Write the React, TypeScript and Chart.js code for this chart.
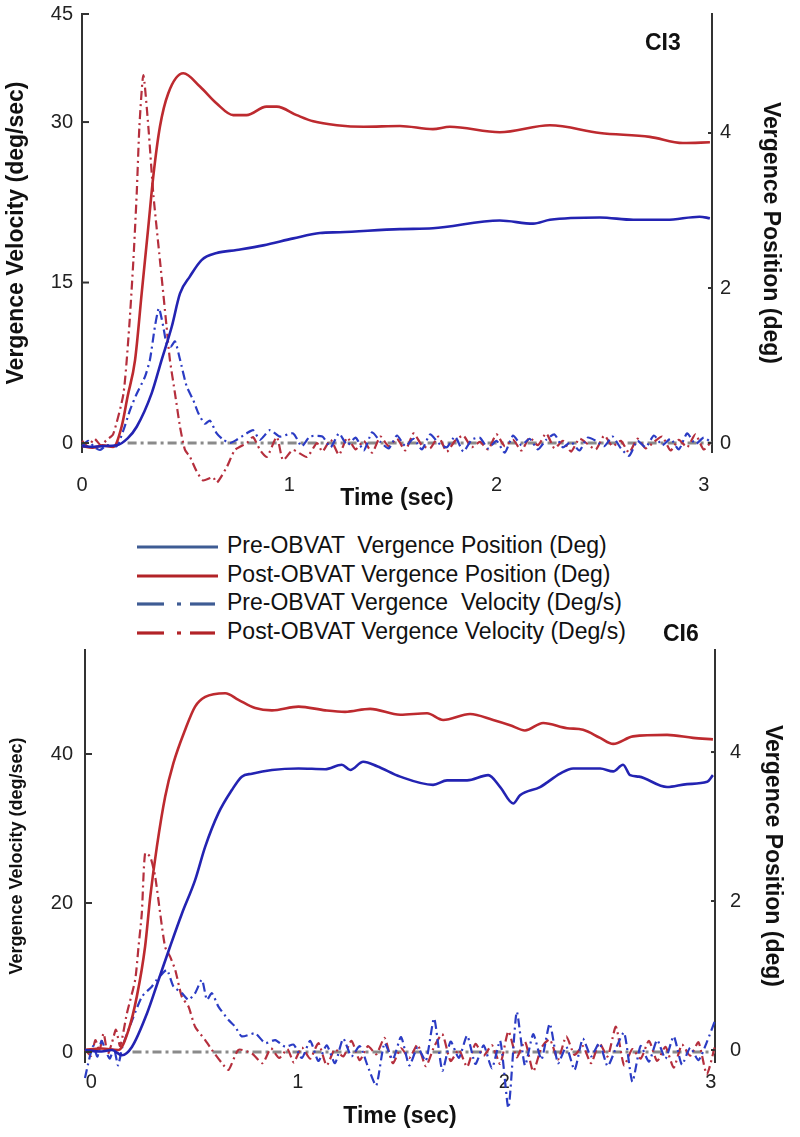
import React, { useEffect, useRef } from "react";
import { Chart, registerables } from "chart.js";

Chart.register(...registerables);

const FONT = '"Liberation Sans", Arial, Helvetica, sans-serif';

// ---------- Colours ----------
const RED_POS = "#bd2a2f";
const BLUE_POS = "#2323b2";
const RED_VEL = "#b52f3d";
const BLUE_VEL = "#2b3cc4";
const ZERO_GRAY = "#8a8a8a";
const LEG_BLUE = "#3e5c94";
const LEG_RED = "#b22327";

// ---------- Legend ----------
const LEGEND_LABELS = [
  "Pre-OBVAT  Vergence Position (Deg)",
  "Post-OBVAT Vergence Position (Deg)",
  "Pre-OBVAT Vergence  Velocity (Deg/s)",
  "Post-OBVAT Vergence Velocity (Deg/s)",
];

// ---------- Top panel (CI3) ----------
const TOP_X_TICKS = [0, 1, 2, 3];
const TOP_VEL_TICKS = [0, 15, 30];
const TOP_VEL_TOP_LABEL = "45";
const TOP_POS_TICKS = [0, 2, 4];

const TOP_PRE_POS_T = [0, 0.05, 0.1, 0.167, 0.22, 0.264, 0.336, 0.384, 0.433, 0.473, 0.521, 0.577, 0.65, 0.746, 0.875, 1.02, 1.148, 1.245, 1.534, 1.693, 2.016, 2.177, 2.258, 2.499, 2.66, 2.82, 2.98, 3.03];
const TOP_PRE_POS = [-0.04, -0.05, -0.04, -0.03, 0.06, 0.21, 0.64, 1.07, 1.5, 1.93, 2.15, 2.36, 2.45, 2.49, 2.55, 2.64, 2.71, 2.72, 2.76, 2.77, 2.87, 2.83, 2.88, 2.91, 2.88, 2.88, 2.92, 2.9];

const TOP_POST_POS_T = [0, 0.05, 0.1, 0.151, 0.191, 0.22, 0.256, 0.288, 0.32, 0.344, 0.376, 0.416, 0.489, 0.569, 0.65, 0.73, 0.794, 0.89, 0.94, 1.036, 1.116, 1.23, 1.36, 1.534, 1.693, 1.775, 2.016, 2.258, 2.499, 2.74, 2.9, 3.03];
const TOP_POST_POS = [-0.04, -0.06, -0.03, -0.05, 0.21, 0.6, 1.07, 1.93, 2.79, 3.44, 4.08, 4.51, 4.77, 4.6, 4.38, 4.23, 4.23, 4.34, 4.34, 4.23, 4.15, 4.1, 4.08, 4.09, 4.05, 4.08, 4.01, 4.1, 4.0, 3.95, 3.87, 3.88];

const TOP_PRE_VEL_T = [0, 0.03, 0.06, 0.087, 0.12, 0.167, 0.2, 0.232, 0.264, 0.304, 0.328, 0.352, 0.371, 0.392, 0.408, 0.428, 0.449, 0.473, 0.505, 0.537, 0.561, 0.593, 0.617, 0.65, 0.682, 0.714, 0.746, 0.794, 0.826, 0.859, 0.907, 0.955, 1.019, 1.06, 1.1];
const TOP_PRE_VEL = [-0.3, 0.2, -0.4, -0.65, -0.2, -0.3, 1.2, 3.1, 4.6, 6.2, 7.8, 10.9, 12.6, 10.9, 9.3, 9.0, 9.5, 7.8, 5.3, 4.0, 2.8, 1.8, 2.1, 0.9, 0.3, 0, 0.3, 0.9, 1.2, 0.3, 1.2, 0.6, 0.9, -0.3, 0.6];

const TOP_POST_VEL_T = [0, 0.03, 0.06, 0.09, 0.12, 0.15, 0.2, 0.228, 0.248, 0.264, 0.277, 0.296, 0.32, 0.344, 0.376, 0.408, 0.424, 0.449, 0.473, 0.497, 0.521, 0.552, 0.584, 0.632, 0.651, 0.7, 0.738, 0.796, 0.825, 0.859, 0.892, 0.94, 0.97, 1.018, 1.085, 1.134];
const TOP_POST_VEL = [0.2, -0.3, 0.4, -0.2, 0.3, 0.8, 4.6, 10.9, 17.1, 23.3, 29.6, 34.4, 29.6, 23.3, 17.1, 10.9, 7.8, 4.6, 1.5, -0.65, -1.3, -2.6, -3.5, -3.2, -3.7, -2.2, -0.65, 0, 0.56, -0.65, -1.3, 0.56, -1.6, -0.65, -1.3, 0];

const TOP_TAIL_T = [1.16, 1.2, 1.24, 1.28, 1.32, 1.36, 1.4, 1.44, 1.48, 1.52, 1.56, 1.6, 1.64, 1.68, 1.72, 1.76, 1.8, 1.84, 1.88, 1.92, 1.96, 2.0, 2.04, 2.08, 2.12, 2.16, 2.2, 2.24, 2.28, 2.32, 2.36, 2.4, 2.44, 2.48, 2.52, 2.56, 2.6, 2.64, 2.68, 2.72, 2.76, 2.8, 2.84, 2.88, 2.92, 2.96, 3.0, 3.04];
const TOP_PRE_VEL_TAIL = [0.6, -0.4, 0.9, -0.2, 0.5, -0.7, 1.0, 0.1, -0.5, 0.7, -0.3, 0.4, -0.6, 0.8, 0.0, -0.4, 0.6, -0.8, 0.3, 0.5, -0.5, 0.2, -0.9, 0.7, -0.2, 0.4, -0.6, 0.3, 0.8, -0.4, 0.1, -0.7, 0.5, 0.2, -0.3, 0.6, -0.5, -1.2, 0.2, -0.4, 0.7, -0.2, 0.4, -0.6, 0.9, -0.1, 0.5, 0.0];
const TOP_POST_VEL_TAIL = [-0.8, 0.3, -1.1, 0.5, -0.6, 0.2, -0.9, 0.6, -0.3, 0.4, -0.7, 0.9, -0.2, -0.5, 0.6, -0.8, 0.2, 0.7, -0.4, 0.1, -0.6, 0.8, -0.3, 0.3, -0.7, 0.5, -0.2, 0.9, -0.5, 0.2, -0.8, 0.4, -0.1, -0.6, 0.7, -0.3, 0.2, -0.9, 0.4, -0.5, 0.1, 0.6, -0.7, 0.3, -0.4, 0.8, -0.6, 0.2];
const TOP_ZERO_T = [0.22, 3.04];

// ---------- Bottom panel (CI6) ----------
const BOT_X_TICKS = [0, 1, 2, 3];
const BOT_VEL_TICKS = [0, 20, 40];
const BOT_POS_TICKS = [0, 2, 4];

const BOT_PRE_POS_T = [-0.03, 0.05, 0.1, 0.149, 0.197, 0.27, 0.326, 0.382, 0.439, 0.503, 0.552, 0.616, 0.681, 0.729, 0.778, 0.875, 1.004, 1.133, 1.213, 1.254, 1.317, 1.384, 1.496, 1.655, 1.723, 1.82, 1.922, 1.98, 2.043, 2.076, 2.173, 2.27, 2.333, 2.464, 2.527, 2.575, 2.609, 2.652, 2.788, 2.885, 2.982, 3.01];
const BOT_PRE_POS = [0.0, -0.02, 0.0, -0.07, 0.04, 0.49, 0.94, 1.39, 1.83, 2.28, 2.73, 3.18, 3.49, 3.67, 3.71, 3.76, 3.78, 3.77, 3.83, 3.76, 3.87, 3.81, 3.67, 3.56, 3.62, 3.62, 3.69, 3.53, 3.31, 3.42, 3.53, 3.71, 3.78, 3.78, 3.74, 3.83, 3.69, 3.67, 3.53, 3.57, 3.6, 3.69];

const BOT_POST_POS_T = [-0.03, 0.05, 0.132, 0.181, 0.221, 0.261, 0.286, 0.318, 0.358, 0.398, 0.455, 0.503, 0.552, 0.649, 0.713, 0.794, 0.875, 1.004, 1.133, 1.229, 1.35, 1.496, 1.626, 1.704, 1.834, 1.946, 2.028, 2.1, 2.188, 2.304, 2.381, 2.464, 2.527, 2.623, 2.788, 2.914, 3.01];
const BOT_POST_POS = [0.0, 0.02, 0.0, 0.27, 0.72, 1.39, 2.06, 2.73, 3.4, 3.85, 4.3, 4.61, 4.74, 4.79, 4.7, 4.59, 4.56, 4.61, 4.56, 4.54, 4.58, 4.5, 4.52, 4.43, 4.51, 4.43, 4.36, 4.29, 4.39, 4.32, 4.3, 4.19, 4.11, 4.21, 4.23, 4.19, 4.17];

const BOT_PRE_VEL_T = [-0.03, -0.01, 0.01, 0.03, 0.05, 0.07, 0.09, 0.11, 0.13, 0.15, 0.181, 0.245, 0.294, 0.318, 0.366, 0.398, 0.439, 0.471, 0.503, 0.536, 0.56, 0.584, 0.616, 0.665, 0.697, 0.729, 0.794, 0.842, 0.891, 0.939];
const BOT_PRE_VEL = [-3.5, -1.0, 0.8, -0.6, 1.5, 0.2, -0.9, 0.5, -1.8, 0.6, 3.0, 7.4, 8.8, 9.7, 11.0, 8.8, 7.9, 7.0, 7.9, 9.7, 7.0, 7.9, 6.1, 4.3, 3.4, 2.1, 2.5, 1.2, 1.6, 0.7];

const BOT_POST_VEL_T = [-0.03, 0.0, 0.02, 0.04, 0.06, 0.08, 0.1, 0.12, 0.14, 0.173, 0.213, 0.229, 0.245, 0.261, 0.286, 0.31, 0.334, 0.358, 0.382, 0.407, 0.439, 0.471, 0.503, 0.552, 0.584, 0.633, 0.665, 0.713, 0.778, 0.83, 0.87, 0.91, 0.95];
const BOT_POST_VEL = [0.3, -0.5, 1.6, 0.2, 2.5, -0.3, 1.2, 3.0, 0.8, 5.2, 9.7, 14.1, 18.6, 26.7, 26.2, 23.5, 18.6, 14.1, 12.8, 11.0, 7.4, 6.1, 3.4, 1.6, 0.3, -1.5, -2.4, 0.3, -0.2, -1.5, 0.5, -0.8, 0.4];

const BOT_TAIL_T = [0.98, 1.02, 1.06, 1.1, 1.14, 1.18, 1.22, 1.26, 1.3, 1.34, 1.38, 1.42, 1.46, 1.5, 1.54, 1.58, 1.62, 1.66, 1.7, 1.74, 1.78, 1.82, 1.86, 1.9, 1.94, 1.98, 2.02, 2.06, 2.1, 2.14, 2.18, 2.22, 2.26, 2.3, 2.34, 2.38, 2.42, 2.46, 2.5, 2.54, 2.58, 2.62, 2.66, 2.7, 2.74, 2.78, 2.82, 2.86, 2.9, 2.94, 2.98, 3.02];
const BOT_PRE_VEL_TAIL = [1.0, -0.8, 1.5, -1.2, 0.9, -1.5, 1.8, -0.6, 0.8, -2.0, -4.5, 1.2, -1.0, 2.0, -1.8, 0.6, -1.2, 4.5, -2.5, 1.4, -0.8, 2.2, -1.6, 0.9, -2.2, 1.5, -7.5, 5.4, -1.8, 2.4, -1.0, 3.8, -1.5, 0.7, -2.4, 1.8, -0.6, 1.2, -1.9, 0.5, 2.6, -4.0, 0.8, -1.3, 1.6, -0.9, 2.1, -1.7, 0.6, -1.1, 1.3, 4.2];
const BOT_POST_VEL_TAIL = [-1.4, 0.6, -0.9, 1.2, -1.8, 0.4, -0.6, 1.5, -1.1, 0.8, -0.3, 1.9, -1.5, 0.5, -0.8, 1.0, -1.9, 0.7, 2.4, -1.2, 0.3, -2.0, 1.1, -0.5, 0.9, -1.6, 2.8, -0.7, 1.4, -2.6, 0.6, 1.7, -1.0, 2.1, -0.4, 0.8, -1.5, 1.2, -0.6, 3.4, -1.8, 0.4, -0.9, 1.5, -1.2, 0.7, -2.1, 1.0, -0.5, 1.3, -3.0, 0.8];
const BOT_ZERO_T = [0.2, 3.02];

// ---------- helpers ----------
const pts = (t: number[], v: number[]) => t.map((x, i) => ({ x, y: v[i] }));

type P = { x: number; y: number };
type Panel = {
  xMin: number; xMax: number; xTicks: number[];
  lMin: number; lMax: number; lTicks: number[]; lLabels: string[];
  rMin: number; rMax: number; rTicks: number[];
  padTop: number; xAxisH: number; leftW: number; rightW: number;
  xTickPad: number; xTitlePadB: number; lTickPad: number; rTickPad: number;
  lTitleSize: number; lTitlePad: number; rTitlePad: number;
  prePos: P[]; postPos: P[]; preVel: P[]; postVel: P[]; zero: P[];
};

const inwardTicks = {
  id: "inwardTicks",
  afterDraw(chart: any) {
    const { ctx, chartArea, scales } = chart;
    ctx.save();
    ctx.strokeStyle = "#333";
    ctx.lineWidth = 2;
    const l = scales.yL;
    l.ticks.forEach((tk: any) => {
      const y = l.getPixelForValue(tk.value);
      ctx.beginPath();
      ctx.moveTo(chartArea.left, y);
      ctx.lineTo(chartArea.left + 7, y);
      ctx.stroke();
    });
    const r = scales.yR;
    r.ticks.forEach((tk: any) => {
      const y = r.getPixelForValue(tk.value);
      ctx.beginPath();
      ctx.moveTo(chartArea.right - 4, y);
      ctx.lineTo(chartArea.right, y);
      ctx.stroke();
    });
    ctx.restore();
  },
};

const noPad = (s: any) => {
  s.paddingTop = 0;
  s.paddingBottom = 0;
  s.paddingLeft = 0;
  s.paddingRight = 0;
};

function makeChart(canvas: HTMLCanvasElement, p: Panel) {
  const tickFont = { family: FONT, size: 20 };
  return new Chart(canvas, {
    type: "line",
    data: {
      datasets: [
        { label: LEGEND_LABELS[0], data: p.prePos, yAxisID: "yR", borderColor: BLUE_POS, borderWidth: 2.6, pointRadius: 0, cubicInterpolationMode: "monotone" } as any,
        { label: LEGEND_LABELS[1], data: p.postPos, yAxisID: "yR", borderColor: RED_POS, borderWidth: 2.6, pointRadius: 0, cubicInterpolationMode: "monotone" } as any,
        { label: LEGEND_LABELS[2], data: p.preVel, yAxisID: "yL", borderColor: BLUE_VEL, borderWidth: 2.2, borderDash: [9, 4, 2, 4], pointRadius: 0, tension: 0.2, clip: false } as any,
        { label: LEGEND_LABELS[3], data: p.postVel, yAxisID: "yL", borderColor: RED_VEL, borderWidth: 2.2, borderDash: [9, 4, 2, 4], pointRadius: 0, tension: 0.2, clip: false } as any,
        { label: "zero", data: p.zero, yAxisID: "yL", borderColor: ZERO_GRAY, borderWidth: 3, borderDash: [9, 4, 3, 4], pointRadius: 0 } as any,
      ],
    },
    options: {
      responsive: false,
      animation: false,
      devicePixelRatio: 1,
      layout: { padding: { top: p.padTop, left: 0, right: 0, bottom: 0 } },
      plugins: { legend: { display: false }, tooltip: { enabled: false } },
      scales: {
        x: {
          type: "linear", position: "bottom", min: p.xMin, max: p.xMax,
          grid: { display: false, drawTicks: false }, border: { display: false },
          ticks: { font: tickFont, color: "#222", padding: p.xTickPad, maxRotation: 0, autoSkip: false },
          afterBuildTicks: (s: any) => { s.ticks = p.xTicks.map((value) => ({ value })); },
          afterFit: (s: any) => { s.height = p.xAxisH; noPad(s); },
          title: { display: true, text: "Time (sec)", font: { family: FONT, size: 23, weight: "bold" }, color: "#111", padding: { top: 0, bottom: p.xTitlePadB } },
        },
        yL: {
          type: "linear", position: "left", min: p.lMin, max: p.lMax,
          grid: { display: false, drawTicks: false }, border: { display: true, color: "#333", width: 2 },
          ticks: { font: tickFont, color: "#222", padding: p.lTickPad, callback: (_v: any, i: number) => p.lLabels[i] },
          afterBuildTicks: (s: any) => { s.ticks = p.lTicks.map((value) => ({ value })); },
          afterFit: (s: any) => { s.width = p.leftW; noPad(s); },
          title: { display: true, text: "Vergence Velocity (deg/sec)", font: { family: FONT, size: p.lTitleSize, weight: "bold" }, color: "#111", padding: { top: p.lTitlePad, bottom: 0 } },
        },
        yR: {
          type: "linear", position: "right", min: p.rMin, max: p.rMax,
          grid: { display: false, drawTicks: false }, border: { display: true, color: "#333", width: 2 },
          ticks: { font: tickFont, color: "#222", padding: p.rTickPad },
          afterBuildTicks: (s: any) => { s.ticks = p.rTicks.map((value) => ({ value })); },
          afterFit: (s: any) => { s.width = p.rightW; noPad(s); },
          title: { display: true, text: "Vergence Position (deg)", font: { family: FONT, size: 23, weight: "bold" }, color: "#111", padding: { top: p.rTitlePad, bottom: 0 } },
        },
      },
    } as any,
    plugins: [inwardTicks],
  });
}

const TOP_PANEL: Panel = {
  xMin: 0, xMax: 3.04, xTicks: TOP_X_TICKS,
  lMin: -0.84, lMax: 40.1, lTicks: [...TOP_VEL_TICKS, 40.1], lLabels: [...TOP_VEL_TICKS.map(String), TOP_VEL_TOP_LABEL],
  rMin: -0.116, rMax: 5.535, rTicks: TOP_POS_TICKS,
  padTop: 14, xAxisH: 68, leftW: 82, rightW: 88,
  xTickPad: 21, xTitlePadB: 8, lTickPad: 9, rTickPad: 8,
  lTitleSize: 23, lTitlePad: 3, rTitlePad: 16,
  prePos: pts(TOP_PRE_POS_T, TOP_PRE_POS),
  postPos: pts(TOP_POST_POS_T, TOP_POST_POS),
  preVel: pts([...TOP_PRE_VEL_T, ...TOP_TAIL_T], [...TOP_PRE_VEL, ...TOP_PRE_VEL_TAIL]),
  postVel: pts([...TOP_POST_VEL_T, ...TOP_TAIL_T], [...TOP_POST_VEL, ...TOP_POST_VEL_TAIL]),
  zero: pts(TOP_ZERO_T, [0, 0]),
};

const BOT_PANEL: Panel = {
  xMin: -0.03, xMax: 3.02, xTicks: BOT_X_TICKS,
  lMin: -1.34, lMax: 53.96, lTicks: BOT_VEL_TICKS, lLabels: BOT_VEL_TICKS.map(String),
  rMin: -0.161, rMax: 5.37, rTicks: BOT_POS_TICKS,
  padTop: 10, xAxisH: 75, leftW: 85, rightW: 85,
  xTickPad: 8, xTitlePadB: 7, lTickPad: 12, rTickPad: 15,
  lTitleSize: 18, lTitlePad: 6, rTitlePad: 14,
  prePos: pts(BOT_PRE_POS_T, BOT_PRE_POS),
  postPos: pts(BOT_POST_POS_T, BOT_POST_POS),
  preVel: pts([...BOT_PRE_VEL_T, ...BOT_TAIL_T], [...BOT_PRE_VEL, ...BOT_PRE_VEL_TAIL]),
  postVel: pts([...BOT_POST_VEL_T, ...BOT_TAIL_T], [...BOT_POST_VEL, ...BOT_POST_VEL_TAIL]),
  zero: pts(BOT_ZERO_T, [0, 0]),
};

function LegendRow({ top, color, dashed, text }: { top: number; color: string; dashed: boolean; text: string }) {
  return (
    <div style={{ position: "absolute", left: 137, top, height: 28, display: "flex", alignItems: "center" }}>
      <svg width={82} height={10} style={{ display: "block", marginTop: 4 }}>
        {dashed ? (
          <g stroke={color} strokeWidth={3.2}>
            <line x1={0} y1={5} x2={27} y2={5} />
            <line x1={40} y1={5} x2={44} y2={5} />
            <line x1={53} y1={5} x2={78} y2={5} />
          </g>
        ) : (
          <line x1={0} y1={5} x2={81} y2={5} stroke={color} strokeWidth={3.2} />
        )}
      </svg>
      <span style={{ marginLeft: 8, fontSize: 23, lineHeight: "28px", color: "#111", whiteSpace: "pre" }}>{text}</span>
    </div>
  );
}

export default function App() {
  const topRef = useRef<HTMLCanvasElement>(null);
  const botRef = useRef<HTMLCanvasElement>(null);

  useEffect(() => {
    const c1 = makeChart(topRef.current!, TOP_PANEL);
    const c2 = makeChart(botRef.current!, BOT_PANEL);
    return () => {
      c1.destroy();
      c2.destroy();
    };
  }, []);

  return (
    <div style={{ position: "absolute", left: 0, top: 0, width: 800, height: 1137, background: "#fff", fontFamily: FONT, overflow: "hidden" }}>
      <canvas ref={topRef} width={800} height={520} style={{ position: "absolute", left: 0, top: 0, width: 800, height: 520 }} />
      <div style={{ position: "absolute", left: 645, top: 28, fontSize: 23, lineHeight: "28px", fontWeight: "bold", color: "#111" }}>CI3</div>
      <LegendRow top={531} color={LEG_BLUE} dashed={false} text={LEGEND_LABELS[0]} />
      <LegendRow top={559.5} color={LEG_RED} dashed={false} text={LEGEND_LABELS[1]} />
      <LegendRow top={588} color={LEG_BLUE} dashed={true} text={LEGEND_LABELS[2]} />
      <LegendRow top={616.5} color={LEG_RED} dashed={true} text={LEGEND_LABELS[3]} />
      <canvas ref={botRef} width={800} height={497} style={{ position: "absolute", left: 0, top: 640, width: 800, height: 497 }} />
      <div style={{ position: "absolute", left: 663, top: 619, fontSize: 23, lineHeight: "28px", fontWeight: "bold", color: "#111" }}>CI6</div>
    </div>
  );
}
